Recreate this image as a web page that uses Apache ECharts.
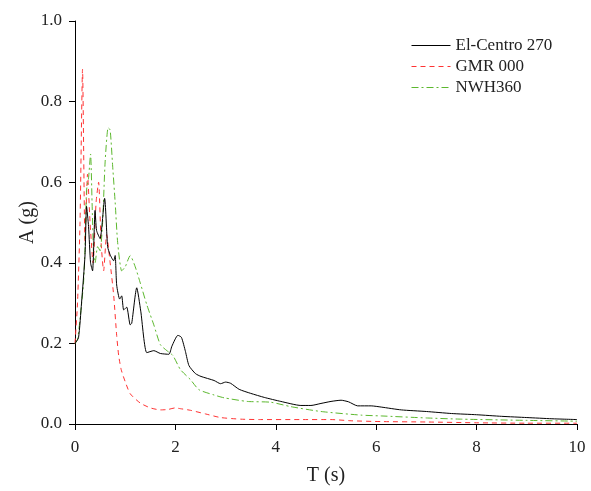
<!DOCTYPE html>
<html>
<head>
<meta charset="utf-8">
<script src="https://cdn.jsdelivr.net/npm/echarts@6/dist/echarts.min.js"></script>
<style>
  html, body { margin: 0; padding: 0; background: #fff; }
  #chart { width: 591px; height: 491px; }
</style>
</head>
<body>
<div id="chart"></div>
<script>
// Response spectra: period T (s) vs. spectral acceleration A (g)

// El-Centro 270
const elCentroT = [0, 0.07, 0.13, 0.2, 0.23, 0.27, 0.31, 0.35, 0.4, 0.43, 0.5, 0.59, 0.65, 0.7, 0.77, 0.8, 0.83, 0.89, 0.93, 0.97, 1.03, 1.1, 1.13, 1.23, 1.31, 1.43, 1.57, 1.7, 1.87, 1.93, 2.05, 2.12, 2.2, 2.27, 2.4, 2.51, 2.77, 2.9, 3.0, 3.1, 3.27, 3.5, 3.77, 4.1, 4.5, 4.7, 4.9, 5.1, 5.3, 5.45, 5.63, 5.9, 6.1, 6.5, 7.0, 7.5, 8.0, 8.5, 9.0, 9.5, 10];
const elCentroA = [0.2, 0.214, 0.3, 0.42, 0.54, 0.49, 0.4, 0.38, 0.53, 0.48, 0.46, 0.56, 0.44, 0.42, 0.405, 0.418, 0.345, 0.31, 0.318, 0.283, 0.29, 0.246, 0.25, 0.338, 0.28, 0.177, 0.182, 0.175, 0.173, 0.193, 0.22, 0.215, 0.18, 0.145, 0.125, 0.118, 0.108, 0.1, 0.104, 0.101, 0.086, 0.076, 0.066, 0.056, 0.046, 0.046, 0.051, 0.056, 0.059, 0.055, 0.045, 0.045, 0.042, 0.035, 0.031, 0.026, 0.023, 0.019, 0.016, 0.013, 0.011];

// GMR 000
const gmrT = [0, 0.05, 0.1, 0.15, 0.2, 0.25, 0.3, 0.36, 0.42, 0.47, 0.52, 0.57, 0.63, 0.7, 0.77, 0.83, 0.87, 0.92, 1.0, 1.1, 1.3, 1.5, 1.7, 1.85, 2.0, 2.1, 2.3, 2.6, 2.9, 3.3, 3.7, 4.5, 5.1, 5.5, 6.1, 7.0, 8.0, 9.0, 10];
const gmrA = [0.2, 0.3, 0.5, 0.88, 0.45, 0.62, 0.5, 0.4, 0.55, 0.6, 0.45, 0.38, 0.47, 0.4, 0.32, 0.22, 0.17, 0.135, 0.105, 0.075, 0.052, 0.04, 0.035, 0.036, 0.04, 0.038, 0.034, 0.025, 0.016, 0.012, 0.011, 0.011, 0.011, 0.008, 0.006, 0.005, 0.003, 0.002, 0.002];

// NWH360
const nwhT = [0, 0.05, 0.1, 0.17, 0.2, 0.23, 0.27, 0.31, 0.34, 0.37, 0.4, 0.45, 0.5, 0.55, 0.6, 0.66, 0.7, 0.75, 0.8, 0.85, 0.93, 1.0, 1.1, 1.2, 1.3, 1.43, 1.57, 1.7, 1.83, 1.95, 2.1, 2.3, 2.47, 2.77, 2.97, 3.43, 3.9, 4.3, 4.9, 5.7, 6.1, 7.0, 7.7, 9.0, 10];
const nwhA = [0.2, 0.21, 0.26, 0.35, 0.44, 0.58, 0.61, 0.67, 0.55, 0.42, 0.4, 0.44, 0.43, 0.5, 0.65, 0.735, 0.73, 0.64, 0.55, 0.45, 0.38, 0.39, 0.418, 0.39, 0.35, 0.296, 0.246, 0.197, 0.182, 0.17, 0.135, 0.11, 0.085, 0.072, 0.065, 0.056, 0.054, 0.043, 0.031, 0.022, 0.02, 0.015, 0.012, 0.009, 0.007];

const xTicks = [0, 2, 4, 6, 8, 10];
const yTicks = [0, 0.2, 0.4, 0.6, 0.8, 1.0];

const pairs = (xs, ys) => xs.map((x, i) => [x, ys[i]]);
const FONT = '"Liberation Serif", "DejaVu Serif", serif';

const chart = echarts.init(document.getElementById('chart'), null, { renderer: 'canvas' });

const axisCommon = {
  axisLine: { show: true, lineStyle: { color: '#000', width: 1 } },
  axisTick: { show: true, inside: false, length: 6, lineStyle: { color: '#000', width: 1 } },
  axisLabel: { color: '#222', fontFamily: FONT, fontSize: 17 },
  splitLine: { show: false },
  nameLocation: 'middle',
  nameMoveOverlap: false,
  nameTextStyle: { color: '#222', fontFamily: FONT, fontSize: 20 }
};

chart.setOption({
  animation: false,
  backgroundColor: '#fff',
  grid: { left: 75, right: 14, top: 21, bottom: 63, containLabel: false },
  legend: {
    orient: 'vertical',
    left: 406,
    top: 32,
    itemWidth: 39,
    itemHeight: 10,
    itemGap: 4,
    itemStyle: { opacity: 0 },
    lineStyle: { width: 1 },
    textStyle: { color: '#222', fontFamily: FONT, fontSize: 17 },
    data: ['El-Centro 270', 'GMR 000', 'NWH360']
  },
  xAxis: Object.assign({}, axisCommon, {
    type: 'value',
    min: xTicks[0],
    max: xTicks[xTicks.length - 1],
    interval: 2,
    name: 'T (s)',
    nameGap: 42,
    axisLabel: Object.assign({}, axisCommon.axisLabel, { margin: 15 })
  }),
  yAxis: Object.assign({}, axisCommon, {
    type: 'value',
    min: yTicks[0],
    max: yTicks[yTicks.length - 1],
    interval: 0.2,
    name: 'A (g)',
    nameGap: 37,
    axisLabel: Object.assign({}, axisCommon.axisLabel, {
      margin: 13,
      formatter: v => v.toFixed(1)
    })
  }),
  series: [
    {
      name: 'El-Centro 270',
      type: 'line',
      data: pairs(elCentroT, elCentroA),
      symbol: 'none',
      smooth: 0.2,
      lineStyle: { color: '#000', width: 1 },
      itemStyle: { color: '#000' },
      z: 3
    },
    {
      name: 'GMR 000',
      type: 'line',
      data: pairs(gmrT, gmrA),
      symbol: 'none',
      smooth: 0.2,
      lineStyle: { color: '#ff3333', width: 1, type: [5, 4] },
      itemStyle: { color: '#ff3333' },
      z: 2
    },
    {
      name: 'NWH360',
      type: 'line',
      data: pairs(nwhT, nwhA),
      symbol: 'none',
      smooth: 0.2,
      lineStyle: { color: '#5cb82e', width: 1, type: [7, 3, 2, 3] },
      itemStyle: { color: '#5cb82e' },
      z: 2
    }
  ]
});
</script>
</body>
</html>
